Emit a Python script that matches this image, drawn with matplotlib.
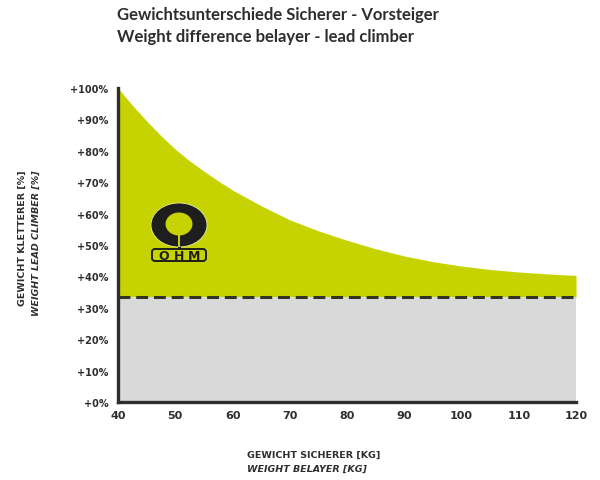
import matplotlib
matplotlib.use("Agg")
import matplotlib.pyplot as plt
from matplotlib.patches import Ellipse, Rectangle, FancyBboxPatch

# data
belayer_kg = [40, 42.5, 45, 47.5, 50, 52.5, 55, 57.5, 60, 65, 70, 75, 80, 85, 90, 95,
              100, 105, 110, 115, 120]
climber_pct = [100, 94.5, 89.5, 84.8, 80.5, 76.8, 73.5, 70.4, 67.5, 62.5, 58, 54.5, 51.5,
               48.8, 46.5, 44.7, 43.3, 42.2, 41.4, 40.8, 40.3]
min_pct = 33.3
x_ticks = [40, 50, 60, 70, 80, 90, 100, 110, 120]
y_ticks = [0, 10, 20, 30, 40, 50, 60, 70, 80, 90, 100]

title_de = "Gewichtsunterschiede Sicherer - Vorsteiger"
title_en = "Weight difference belayer - lead climber"
xlabel_de = "GEWICHT SICHERER [KG]"
xlabel_en = "WEIGHT BELAYER [KG]"
ylabel_de = "GEWICHT KLETTERER [%]"
ylabel_en = "WEIGHT LEAD CLIMBER [%]"

LIME = "#c6d300"
GREY = "#dad9da"
DARK = "#2e2e2e"

W, H = 600, 481
fig = plt.figure(figsize=(W / 100, H / 100), dpi=100)


def px(x, y):
    return x / W, 1 - y / H


ax = fig.add_axes([118 / W, 1 - 403 / H, 458 / W, 314 / H])
ax.fill_between(belayer_kg, min_pct, climber_pct, color=LIME, lw=0, zorder=1)
ax.fill_between([belayer_kg[0], belayer_kg[-1]], 0, min_pct, color=GREY, lw=0, zorder=1)
ax.plot([belayer_kg[0], belayer_kg[-1]], [min_pct, min_pct], color="#333322",
        lw=2.2, dashes=(3.9, 1.9), zorder=3)

ax.set_xlim(40, 120)
ax.set_ylim(0, 100)
for s in ("top", "right"):
    ax.spines[s].set_visible(False)
for s in ("left", "bottom"):
    ax.spines[s].set_linewidth(2.4)
    ax.spines[s].set_color(DARK)
    ax.spines[s].set_zorder(4)
ax.set_xticks(x_ticks)
ax.set_yticks(y_ticks)
ax.set_yticklabels([f"+{v}%" for v in y_ticks])
ax.tick_params(length=0, labelsize=7, colors=DARK, pad=7)
ax.tick_params(axis="x", labelsize=8, pad=6)
for lab in ax.get_xticklabels() + ax.get_yticklabels():
    lab.set_fontweight("bold")

# titles and labels
fig.text(*px(117, 15), title_de, fontsize=12, fontweight="bold", family="Lato",
         color=DARK, va="center", ha="left")
fig.text(*px(117, 37), title_en, fontsize=12, fontweight="bold", family="Lato",
         color=DARK, va="center", ha="left")
fig.text(*px(247, 455), xlabel_de, fontsize=6.8, fontweight="bold", color=DARK,
         va="center", ha="left")
fig.text(*px(247, 469), xlabel_en, fontsize=6.8, fontweight="bold", style="italic",
         color=DARK, va="center", ha="left")
fig.text(*px(22, 170), ylabel_de, fontsize=6.8, fontweight="bold", color=DARK,
         rotation=90, va="top", ha="center")
fig.text(*px(36, 170), ylabel_en, fontsize=6.8, fontweight="bold", style="italic",
         color=DARK, rotation=90, va="top", ha="center")

# OHM logo
lx0, ly0, lw_, lh_ = 145, 198, 70, 68
lax = fig.add_axes([lx0 / W, 1 - (ly0 + lh_) / H, lw_ / W, lh_ / H])
lax.set_xlim(0, lw_)
lax.set_ylim(lh_, 0)
lax.axis("off")
lax.add_patch(Ellipse((34, 28), 56, 44, facecolor="#1e1e1e", edgecolor="#e8ee9a", lw=0.6))
lax.add_patch(Ellipse((34, 27), 27, 23, facecolor=LIME, edgecolor="none"))
lax.add_patch(Rectangle((33, 37), 2, 13, facecolor=LIME, edgecolor="none"))
lax.add_patch(Rectangle((32.5, 49.5), 3, 3, facecolor="#1e1e1e", edgecolor="none"))
lax.add_patch(FancyBboxPatch((7, 52), 54, 12, boxstyle="round,pad=0,rounding_size=3",
                             facecolor=LIME, edgecolor="#1e1e1e", lw=1.4))
for lx, letter in zip([18.5, 34, 49.5], "OHM"):
    lax.text(lx, 58.3, letter, fontsize=9, fontweight="bold", color="#1e1e1e",
             ha="center", va="center", family="DejaVu Sans")

fig.savefig("out.png", dpi=100, facecolor="white")
